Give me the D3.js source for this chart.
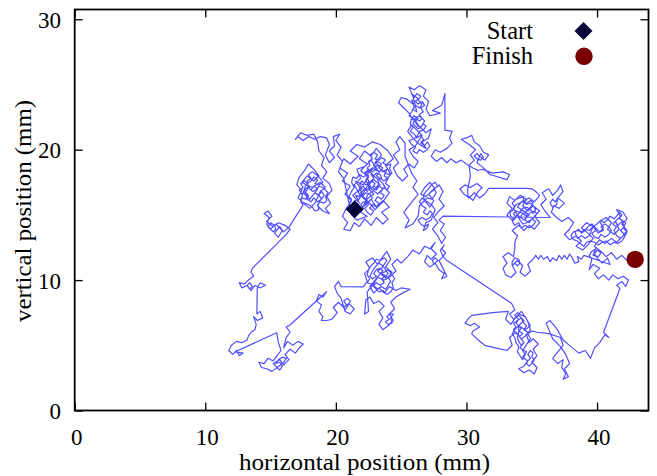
<!DOCTYPE html>
<html>
<head>
<meta charset="utf-8">
<script src="https://cdn.jsdelivr.net/npm/d3@7"></script>
<style>
  html, body { margin: 0; padding: 0; background: #fff; }
  svg { display: block; }
  text { font-family: "Liberation Serif", "Times New Roman", serif; fill: #000; }
</style>
</head>
<body>
<svg id="chart" width="657" height="476"></svg>
<script>
// ---- data (mm) ----
const xTicks = [0, 10, 20, 30, 40];
const yTicks = [0, 10, 20, 30];
const xDomain = [0, 43.94];
const yDomain = [0, 30.75];
const xTitle = "horizontal position (mm)";
const yTitle = "vertical position (mm)";
const legendLabels = ["Start", "Finish"];
const start = [21.44, 15.43];
const finish = [42.92, 11.59];

// traced path, in order (x, y)
const walkCentre = [[21.44,15.43],
  [21.6,15.7],[21.4,16.0],[21.7,16.2],[21.5,16.5],[21.8,16.4],[22.0,16.7],[21.8,17.0],[22.1,17.2],[22.3,16.9],[22.6,17.1],[22.4,17.4],[22.7,17.6],[23.0,17.4],[22.8,17.1],[23.1,16.9],[23.3,17.2],[23.6,17.0],[23.4,16.7],[23.7,16.5],[23.5,16.2],[23.2,16.4],[23.0,16.1],[23.3,15.9],[23.1,15.6],[22.8,15.8],[22.6,15.5],[22.9,15.3],[22.7,15.0],[22.4,15.2],[22.2,15.5],[22.5,15.8],[22.3,16.1],[22.6,16.4],[22.9,16.6],[22.6,16.9],[22.3,17.7],[22.5,18.0],[22.2,18.2],[22.5,18.5],[22.8,18.3],[23.1,18.5],[22.9,18.8],[23.2,19.1],[23.5,18.9],[23.3,18.6],[23.6,18.3],[23.9,18.5],[23.7,18.0],[24.0,17.8],[23.8,17.4],[24.1,17.2],[23.9,16.9],[23.6,17.4],[23.3,17.7],[23.0,17.9],[22.7,18.1],[22.9,17.8],[22.6,17.5],[22.3,17.3],[22.0,17.6],[21.8,17.4],[22.0,17.0],[21.7,16.8],[21.9,16.4],[21.7,16.1],
  [21.8,15.9],[21.3,16.5],[21.9,17.0],[21.5,17.6],[22.1,17.3],[22.5,17.9],[21.9,18.4],[22.4,18.9],[21.8,19.3],[22.2,19.9],[22.7,19.5],[23.1,20.1],[23.5,19.6],[23.0,19.0],[23.6,18.6],[23.1,18.0],[23.7,17.6],[24.2,18.1],[23.8,18.8],[24.4,19.3],[24.0,19.9],[23.4,20.4],[22.8,20.6],[22.2,20.2],[21.6,20.4],[21.1,19.9],[21.7,19.5],[21.1,18.9],[20.6,19.3],[20.3,18.6],[20.9,18.2],[20.5,17.6],[21.1,17.2],[20.7,16.6],[21.2,16.1],[20.8,15.5],[20.5,14.9],[20.9,14.4],[20.6,13.9],[21.1,13.8],[21.4,14.4],[21.8,14.1],[22.2,14.7],[22.7,14.2],[23.1,14.8],[23.6,14.3],[24.0,14.7],[23.5,15.2],[24.1,15.6],[23.6,16.1],[23.1,15.6],[22.7,16.2],[22.2,15.7],[22.4,16.5],[22.9,16.9],[23.4,17.3],[22.9,17.7],[22.4,17.2],[22.0,16.5],[22.5,16.0],[23.0,15.4],[23.6,16.0],[24.1,16.7],[23.7,17.1],[23.2,16.6],[22.7,17.0],[22.3,18.2],[22.8,18.6],[23.3,18.3],[22.7,19.2],[22.2,18.7],[21.6,18.5],[21.9,17.8],[21.4,17.3],[21.8,16.6],[22.3,16.1],[21.9,15.2],[22.4,14.9],[21.6,14.6],[21.2,15.0],
  [21.4,15.2],[21.6,15.4],[21.9,15.3],[22.1,15.5],[21.9,15.8],[22.1,16.0],[22.4,15.9],[22.6,16.1],[22.8,16.3],[22.6,16.6],[22.3,16.7],[22.1,16.5],[21.9,16.7],[22.2,17.0],[22.4,16.8],[22.6,17.0],[22.9,17.2],[23.1,17.1],[23.3,17.4],[23.2,17.7],[23.5,17.8],[23.4,18.1],[23.1,18.2],[22.9,18.0],[22.6,18.3],[22.4,18.6],[22.6,18.8],[22.5,19.1],[22.8,19.3],[22.6,19.6],[22.9,19.8],[23.2,19.6],[23.0,19.3],[23.3,19.2],[23.5,19.4],[23.8,19.2],[23.6,19.0],[23.9,18.8],[24.2,18.9],[24.1,18.5],[24.3,18.2],[24.0,18.1],[23.7,18.3],[23.4,18.5],[23.2,18.8],[22.9,18.6],[22.7,18.4],[22.4,18.1],[22.1,17.9],[21.8,18.1],[21.6,17.8],[21.3,17.9],[21.2,17.5],[21.4,17.1],[21.2,16.8],[21.0,16.4],[21.2,16.2],[21.0,15.8],[21.2,15.5],[21.2,15.0],
  [20.6,17.8],[20.2,18.3]];
const walkWest = [[20.5,19.1],[20.1,19.6],[20.4,20.2],[20.0,20.7],[20.3,21.2],[19.8,21.0],[19.9,20.3],[19.5,19.9],[19.9,19.4],[19.5,19.0],[19.2,19.6],[19.5,20.4],[19.3,20.9],[18.8,21.0],[18.4,20.8],[17.9,21.0],[17.5,20.7],[17.1,21.0],[16.9,20.8],[17.3,21.3],[17.8,21.1],[18.3,21.2],[18.6,20.6],[18.7,19.9],[19.1,19.4],[18.9,18.8],[19.3,18.3],[19.0,17.8],[19.5,17.4],[19.7,16.9],[19.3,16.4],[19.6,15.9],[19.2,15.5],[19.5,15.1],[19.0,15.3],[18.6,15.7],[18.9,16.3],[18.4,16.7],[18.0,16.2],[17.6,16.6],[17.9,17.1],
  [18.1,16.9],[18.3,17.2],[18.6,17.0],[18.4,16.7],[18.7,16.5],[18.9,16.8],[19.1,16.5],[18.9,16.2],[18.6,16.0],[18.3,16.3],[18.1,16.0],[17.8,16.2],[17.9,16.5],[17.6,16.8],[17.4,16.6],[17.2,16.9],[17.5,17.1],[17.3,17.4],[17.6,17.6],[17.8,17.4],[18.1,17.6],[18.3,17.9],[18.6,17.7],[18.4,17.4],[18.7,17.3],[19.0,17.5],[18.8,17.8],[18.5,18.1],[18.2,18.3],[17.9,18.1],[18.1,17.8],[17.8,17.6],[17.9,17.2],
  [17.7,17.0],[17.5,16.7],[17.8,16.5],[17.7,16.2],[17.4,16.3],[17.3,16.0],[17.6,15.9],[17.9,15.8],[18.2,15.6],[18.4,15.3],[18.7,15.4],[18.6,15.8],[18.8,16.0],[19.1,15.9],[19.3,16.1],[19.2,16.4],[19.4,16.7],[19.2,16.9],[19.0,17.1],[18.7,17.2],[18.5,16.9],[18.2,16.8],[18.0,17.0],[17.9,17.2],
  [17.4,17.5],[17.8,18.0],[18.3,17.6],[18.7,18.0],[18.3,18.5],[17.9,18.9],[17.6,18.4],[17.2,17.9],[17.0,17.3],[17.4,16.9],[17.1,16.3],[17.5,15.9],[18.0,15.5],[18.4,15.9],[18.8,16.8],[19.2,17.1],[18.8,17.5],[18.2,17.1],[17.7,17.3],[17.3,16.1],[17.48,15.75],
  [16.41,14.06],[16.0,13.7],[15.7,14.1],[15.3,13.6],[15.6,13.3],[15.9,13.8],[15.4,14.3],[15.0,13.9],[15.2,13.7],[15.4,13.9],[15.3,14.2],[15.0,14.4],[14.8,14.1],[15.0,13.9],[14.7,14.3],[14.9,14.8],[14.5,15.1],[14.8,15.3],[15.1,14.9],[14.7,14.5],[15.2,14.1],[15.6,14.4],[16.1,14.2],[16.5,13.9],[16.2,13.5],[15.8,13.1],[15.5,12.8],
  [13.6,10.9],[13.5,10.6],[13.7,10.3],[13.3,10.0],[13.0,9.7],[12.6,9.8],[12.8,9.4],[13.2,9.6],[13.4,9.8],[13.6,9.5],[13.4,9.3],[13.2,9.6],[13.5,9.2],[13.8,9.6],[14.2,9.4],[14.6,9.6],[14.2,9.8],[13.98,9.4],[13.95,7.4],[14.2,7.6],[14.4,7.1],[14.0,6.9],[13.7,7.2],[13.9,6.6],[13.8,6.2],[13.5,6.0],[13.3,5.7],[13.2,5.4],[12.8,5.2],[12.4,5.3],[12.0,5.0],[11.8,4.6],[12.1,4.3],[12.4,4.6],[12.6,4.2],[12.9,4.4],[12.29,4.5]];
const walkSouth = [[15.47,5.96],[15.6,5.2],[15.8,4.6],[15.5,4.2],[15.2,3.8],[14.8,4.0],[14.5,3.6],[14.1,3.7],[14.3,3.3],[14.7,3.2],[15.1,3.0],[15.5,3.3],[15.7,3.1],[15.9,3.4],[15.7,3.7],[15.4,3.6],[15.6,3.9],[15.9,4.1],[16.2,4.0],[16.0,3.7],[15.8,3.5],[15.5,3.3],[15.2,3.6],[15.7,3.9],[16.0,3.5],[16.4,3.9],[16.1,4.3],[16.5,4.7],[16.9,4.4],[17.2,4.8],[17.5,5.1],[17.1,5.3],[16.7,5.0],[16.3,5.3],[16.0,4.8],[16.2,5.6],[16.5,6.0],[16.2,6.4],[16.48,6.56],
  [19.29,9.11],[19.0,8.7],[18.7,8.9],[18.5,8.4],[18.9,8.1],[18.7,7.6],[19.0,7.2],[18.9,6.9],[19.3,6.9],[19.7,7.0],[20.1,7.5],[19.8,7.9],[20.2,8.3],[20.6,7.9],[20.8,8.1],[20.6,8.4],[20.9,8.6],[21.1,8.4],[20.9,8.0],[20.7,7.7],[20.5,8.1],[20.6,7.9],[21.0,8.2],[21.4,7.8],[21.1,7.4],[20.7,7.6],[20.4,8.6],[20.1,9.0],[19.9,9.5],[20.2,9.9],[20.4,9.5],
  [22.1,9.48],[22.4,9.9],[22.2,10.5],[22.6,10.9],[22.3,11.4],[22.8,11.7],[23.2,11.2],[23.6,11.8],[23.9,12.2],[24.2,11.6],[23.8,11.0],[24.3,10.6],[23.9,10.1],[23.4,10.5],
  [23.6,10.7],[23.4,10.9],[23.1,10.8],[22.9,10.5],[23.1,10.3],[22.8,10.1],[22.6,10.3],[22.8,10.7],[23.0,11.0],[23.3,11.3],[23.6,11.1],[23.8,10.8],[24.0,10.5],[23.8,10.3],[23.5,10.1],[23.7,9.8],[23.4,9.6],[23.1,9.8],[22.9,9.6],[23.2,9.3],[23.5,9.5],[23.8,9.3],[24.0,9.6],[24.2,9.9],[24.0,10.2],[23.7,10.4],[23.4,10.5],
  [23.2,10.7],[23.5,10.9],[23.7,11.2],[23.9,11.5],[23.7,11.7],[23.4,11.5],[23.1,11.6],[22.9,11.3],[22.7,11.1],[22.5,10.8],[22.4,10.4],[22.6,10.1],[22.4,9.8],[22.7,9.7],[23.0,9.4],[23.3,9.1],[23.6,9.2],[23.9,8.9],[24.2,9.1],[24.4,9.4],[24.3,9.8],[24.5,10.1],[24.3,10.4],[24.0,10.8],[23.7,10.6],[23.4,10.5],
  [23.0,10.0],[22.6,9.5],[22.9,9.0],[23.3,9.4],[23.7,9.0],[24.1,9.5],[24.6,9.2],[25.0,9.4],[25.7,9.3],[25.1,9.0],[24.6,8.7],[24.2,8.3],[24.5,7.8],[24.1,7.4],[23.9,7.2],[24.1,7.0],[23.8,6.8],[24.0,6.6],[24.3,6.7],[24.2,7.1],[24.4,7.4],[24.1,7.4],[24.4,6.9],[24.0,6.5],[23.6,6.2],[23.3,6.6],[23.6,7.1],[23.3,7.6],[23.7,8.0],[23.3,8.4],[22.9,8.2],[22.6,8.7],[22.3,8.5],[22.2,7.4],[22.5,7.6],[22.4,9.1],[22.8,9.6],[23.2,10.2],[23.7,10.0],[24.2,10.3],[24.6,10.7],[24.3,11.2],[24.7,11.6],[25.0,11.3],[25.5,11.8],[25.9,12.3],[26.4,12.0],[26.8,12.6],[27.2,12.4],[27.6,12.9],
  [27.3,12.4],[27.7,12.0],[27.3,11.6],[27.0,11.9],[26.8,11.4],[27.2,11.0],[27.6,11.3],[27.8,11.5],[27.6,11.7],[27.4,11.5],[27.5,11.2],[27.6,11.3],[27.9,10.8],[28.3,10.5],[28.1,10.1],[28.5,10.3],[28.2,10.9],[27.9,11.5],[28.2,11.8],[28.4,12.1],[28.1,12.4],[28.3,12.7],[28.0,12.3],[28.2,11.8],[28.48,11.53]];
const walkSouthEast = [[33.46,8.21],[33.7,7.7],[33.3,7.4],[33.6,7.0],[34.0,7.3],[34.4,6.9],[34.0,6.5],
  [34.2,6.3],[34.0,6.1],[34.3,5.9],[34.1,5.7],[33.8,5.9],[33.6,6.2],[33.8,6.4],[33.6,6.7],[33.9,6.9],[34.2,7.1],[34.4,6.7],[34.6,6.5],[34.4,6.2],[34.7,6.0],[34.5,5.7],[34.2,5.5],[34.4,5.2],[34.2,5.0],[34.0,5.3],[33.9,5.6],[34.0,6.0],[34.0,6.5],
  [33.8,6.7],[34.0,7.0],[33.7,7.3],[33.9,7.5],[34.2,7.3],[34.5,7.2],[34.7,6.8],[34.9,6.2],[34.7,5.9],[34.9,5.5],[34.7,5.2],[34.5,4.9],[34.3,4.6],[34.5,4.3],[34.3,3.9],[34.1,4.2],[33.9,4.5],[34.0,4.9],[33.8,5.2],[33.7,5.6],[33.5,5.9],[33.7,6.2],[34.0,6.5],
  [34.5,6.2],[34.9,6.5],[34.6,7.0],[34.2,7.6],[33.8,7.2],[33.4,6.6],[33.0,7.0],[33.2,7.6],[32.0,7.5],[30.4,7.3],[30.1,7.0],[29.9,6.7],[30.3,6.5],[30.6,6.7],[31.0,6.4],[30.5,6.1],[30.4,5.9],[30.9,5.4],[31.4,5.0],[32.2,4.8],[33.1,4.6],[33.5,5.0],[33.3,5.6],[33.8,6.0],[34.1,5.6],[34.4,5.2],[34.1,4.8],[34.6,4.5],[34.3,4.1],[34.7,3.8],
  [34.9,4.0],[34.7,4.3],[34.9,4.6],[35.1,4.4],[35.0,4.1],[35.2,3.9],[35.0,3.6],[34.8,3.4],[34.6,3.6],[34.7,3.8],
  [34.4,3.4],[34.0,3.2],[34.4,2.9],[34.8,3.1],[35.2,2.8],[35.4,3.3],[35.0,3.7],[35.4,4.2],[35.1,4.7],[35.5,5.1],[35.1,5.5],[34.8,5.2],[34.6,5.8],[35.0,6.1],[35.4,6.0],[36.3,5.9],[37.2,5.6],[37.4,5.0],[37.0,4.5],[36.6,4.0],[37.0,3.6],[37.4,3.9],[37.3,3.3],[37.6,2.8],[37.4,2.4],[37.8,2.6],[37.5,3.2],[37.9,3.6],[37.6,4.3],[37.2,4.9],[36.6,5.5],[36.1,6.7],[36.4,6.9],[36.9,6.3],[37.4,5.4],[38.0,4.9],[38.6,4.4],[39.1,4.6],[39.5,4.0],[39.8,4.8],[40.2,5.2],[40.6,5.8],[40.9,5.6],[40.5,6.0],[41.75,9.36],
  [41.5,9.6],[41.9,9.9],[42.2,9.5],[42.4,10.0],[42.0,10.3],[41.6,10.1],[41.2,10.4],[40.9,10.0],[40.5,10.4],[40.1,10.1],[39.8,10.5],[40.2,10.9],[39.7,11.2],[39.4,10.8],[39.6,11.6],[39.4,11.9],[39.6,12.2],[39.9,12.4],[39.7,11.9],[40.1,11.8],[40.3,12.1],[40.0,12.3],[39.8,12.0],[40.0,11.7],[40.4,11.3],[40.8,11.7],[41.0,11.2],
  [39.0,11.9],[38.8,11.6],[38.5,11.8],[38.6,11.4],[38.3,11.3],[38.1,11.7],[37.9,12.0],[37.7,11.6],[37.5,11.9],[37.3,11.6],[37.1,11.9],[36.9,11.5],[36.6,11.7],[36.4,11.4],[36.2,11.8],[35.9,11.6],[35.7,11.9],[35.5,11.6],[35.3,11.9],[35.1,11.6],
  [34.7,11.2],[34.9,10.7],[34.5,10.3],[34.1,10.6],[34.3,11.1],[33.9,11.5],[33.5,11.1],[33.7,11.3],[33.9,11.1],[34.1,11.3],[34.0,11.6],[33.7,11.7],[33.5,11.4],[33.5,11.1],[33.8,10.6],[33.4,10.2],[33.0,10.4],[32.8,10.9],[33.1,11.3],[32.8,11.8],[33.2,12.1],[33.6,11.8],[33.7,12.4],[33.7,12.9]];
const walkEast = [[33.9,13.4],[33.5,13.8],[34.0,14.2],[34.4,13.8],[34.8,14.2],[35.2,13.9],[35.6,14.4],[35.2,14.9],[35.6,15.3],[35.1,15.7],[34.7,15.3],[34.3,15.7],[34.6,16.2],[34.1,16.5],[33.7,16.1],[33.3,16.4],[33.1,15.9],[33.5,15.5],[33.1,15.0],[33.5,14.6],[33.9,15.0],
  [34.1,14.8],[34.3,15.1],[34.6,14.9],[34.5,14.6],[34.8,14.4],[35.0,14.7],[35.3,14.5],[35.1,14.2],[34.8,14.0],[34.5,14.2],[34.2,14.0],[34.0,14.4],[33.7,14.2],[33.5,14.5],[33.8,14.8],[33.6,15.1],[33.8,15.3],[34.1,15.2],[34.3,15.5],[34.6,15.6],[34.9,15.4],[35.1,15.1],[35.3,15.4],[35.1,15.7],[34.9,15.9],[34.6,15.8],[34.4,16.1],[34.1,15.9],[33.8,15.8],[33.6,15.5],[33.9,15.0],
  [34.1,14.6],[34.3,14.3],[34.6,14.4],[34.9,14.6],[35.2,14.8],[35.4,15.1],[35.2,15.3],[34.9,15.2],[34.7,14.9],[34.5,15.2],[34.2,15.4],[34.0,15.1],[33.8,14.9],[33.6,14.7],[33.4,14.9],[33.3,15.2],[33.5,15.3],[33.7,15.6],[33.5,15.9],[33.8,16.2],[34.1,16.3],[34.4,16.4],[34.3,16.0],[34.6,15.9],[34.9,16.1],[35.1,15.9],[34.9,15.6],[34.7,15.4],[34.4,15.1],[34.1,15.2],[33.9,15.0],
  [34.4,14.6],[34.8,15.0],[34.4,15.3],[33.9,15.6],[34.2,16.0],[34.8,16.3],[35.2,16.0],[35.6,16.5],[35.3,16.8],[35.0,17.0],[34.6,17.04],
  [31.7,17.04],[31.4,16.6],[31.0,16.3],[30.6,16.7],[30.2,16.3],[29.8,16.6],[29.5,17.0],[29.9,17.3],[30.3,17.1],[30.8,17.4],[31.2,17.1],[30.9,16.8],[30.5,16.1],[30.1,16.5],[30.1,17.0],
  [30.3,18.0],[30.2,18.8],[30.6,19.2],[30.3,19.6],[30.7,20.0],[30.2,20.4],[29.6,20.8],[30.0,20.9],[30.4,21.1],[30.6,20.6],[31.0,20.3],[31.3,19.8],[31.7,19.6],[31.4,19.2],[31.0,19.5],[30.8,19.7],[30.6,19.5],[30.8,19.3],[31.1,19.2],[31.3,19.4],[31.1,19.7],[31.0,19.5],[30.8,19.0],[31.2,18.7],[31.8,18.1],[33.1,17.7],[33.3,18.1],[32.8,18.3],[32.0,18.2],[31.2,18.5],[30.9,18.4],[30.5,18.6],[30.0,18.9],[29.6,19.2],[29.2,19.0],[28.8,19.3],[28.5,19.0],[28.1,19.4],[27.7,19.1],[27.3,19.5],[27.6,20.0],[28.0,19.8],[28.5,20.1],[28.9,20.5],[28.7,20.9],[28.9,21.4],[28.35,21.5],[28.35,24.3]];
const walkNorth = [[28.1,23.4],[27.4,23.0],[28.0,22.8],[27.2,22.6],[26.9,23.1],[27.1,23.7],[26.7,24.1],[26.9,24.6],[26.4,24.9],[26.0,24.6],[25.6,24.8],[25.8,24.3],
  [26.0,24.0],[26.2,24.3],[26.5,24.1],[26.3,23.8],[26.6,23.5],[26.4,23.2],[26.1,23.4],[25.9,23.1],[26.2,22.9],[25.9,24.1],[25.8,24.3],
  [26.3,23.9],[25.9,23.5],[25.4,23.9],[25.0,24.0],[24.8,23.6],[25.2,23.2],[25.6,22.8],[25.9,22.3],[26.4,22.6],[26.8,22.2],[26.5,21.7],
  [26.3,21.9],[26.1,22.2],[26.3,22.4],[26.0,22.6],[25.8,22.4],[25.7,22.0],[25.9,21.7],[25.7,21.4],[26.0,21.2],[26.2,20.9],[26.5,21.1],[26.7,20.8],[26.5,20.5],[26.8,20.3],[27.0,20.6],[27.2,20.3],[27.0,20.0],[26.7,19.8],[26.4,20.0],[26.2,19.7],[25.9,19.9],[26.1,20.2],[25.8,20.4],[25.6,20.7],[25.9,20.8],[26.2,21.0],[26.4,21.4],[26.7,21.5],[26.9,21.8],[26.7,22.0],[26.5,21.7],
  [26.3,21.6],[26.1,21.8],[25.9,22.0],[26.1,22.4],[26.4,22.2],[26.6,22.4],[26.4,22.7],[26.7,22.9],[26.5,23.2],[26.8,23.4],[26.6,23.7],[26.3,23.5],[26.1,23.7],[25.8,23.8],[26.0,23.3],[25.8,22.9],[25.6,22.6],[25.9,22.4],[26.1,22.1],[26.3,21.8],[26.5,21.7],
  [26.9,21.3],[27.3,21.6],[27.1,20.9],[26.6,20.6],[26.9,20.1],[26.4,20.4],[25.9,20.9],[25.5,21.4],[25.8,21.9],[26.2,21.5],[26.6,21.1],[26.1,20.3],[25.6,20.0],[25.9,19.5],[26.3,19.1],[26.0,18.6],[25.6,18.9],[25.2,18.5],[25.5,18.0],[25.1,17.6],[24.7,18.0],[24.4,18.6],[24.8,19.0],[24.4,19.6],[24.9,20.0],[24.6,20.6],[24.9,21.0],[25.3,20.5],[25.3,19.5],
  [25.8,18.2],[26.2,17.6],[25.9,17.1],[26.3,16.6],[25.9,16.1],[25.2,15.2],[25.6,14.6],[25.3,14.0],[25.9,14.3],[26.3,14.9],[26.4,15.7],[26.8,16.1],
  [26.6,16.3],[26.4,16.0],[26.6,15.7],[26.9,15.5],[26.7,15.2],[27.0,15.0],[27.2,15.3],[27.4,15.1],[27.2,14.8],[26.9,14.6],[26.6,14.8],[26.3,14.6],[26.5,14.3],[26.8,14.1],[27.1,14.3],[27.0,14.0],[26.7,13.8],[26.9,14.4],[27.3,14.6],[27.6,15.4],[27.3,15.8],[27.0,16.0],[26.8,16.1],
  [27.0,16.3],[27.3,16.2],[27.5,16.4],[27.7,16.7],[27.5,17.0],[27.8,17.2],[27.6,17.5],[27.3,17.3],[27.1,17.0],[26.9,16.8],[26.7,16.5],[26.8,16.1],
  [27.2,15.6],[27.5,16.1],[27.1,16.6],[27.6,17.0],[27.2,17.5],[26.8,17.1],[26.5,16.6],[26.9,16.4],[27.4,16.9],[27.9,17.3],[28.2,16.8],[27.9,16.2],[28.3,15.7],[27.9,15.3],[27.5,14.8],[27.8,14.4],[27.4,13.9],[27.8,13.4],[28.1,12.8],[28.4,13.3],[28.0,13.8],[28.3,14.3],[27.9,14.6],[28.2,14.9]];
const walkFinal = [[36.4,14.8],[36.0,15.3],[35.7,15.8],[36.1,16.2],[35.8,16.7],[36.3,17.0],[36.6,16.5],[37.0,16.9],[37.2,17.3],[37.4,16.8],[37.0,16.3],[36.8,16.0],[36.6,16.2],[36.4,15.9],[36.6,15.6],[36.9,15.8],[37.0,16.3],[37.5,15.9],[37.1,15.5],[36.7,15.7],[36.5,15.2],[36.9,14.8],[37.3,14.5],[37.8,14.8],[38.2,14.4],[37.9,13.9],[37.5,13.5],[37.9,13.1],[38.4,13.4],[38.8,13.0],[38.4,12.6],[38.9,12.3],[39.3,12.7],[39.7,13.2],[39.3,13.6],[38.8,14.0],[39.2,14.4],[39.7,14.1],
  [39.9,13.8],[39.6,13.6],[39.8,13.3],[40.1,13.2],[40.3,13.5],[40.6,13.3],[40.9,13.5],[41.1,13.8],[40.9,14.1],[40.6,14.3],[40.3,14.1],[40.5,13.8],[40.2,13.7],[39.9,14.0],[39.6,14.3],[39.3,14.1],[39.1,13.8],[38.8,13.6],[38.6,13.9],[38.3,13.7],[38.5,13.2],[38.8,13.4],[39.1,13.2],[39.4,13.4],[39.7,14.1],
  [40.0,14.3],[40.3,14.6],[40.5,14.4],[40.8,14.6],[41.0,14.9],[41.3,14.7],[41.5,14.9],[41.7,15.2],[41.9,15.0],[41.7,14.7],[41.9,14.6],[42.2,14.4],[42.0,14.0],[42.3,13.7],[42.1,13.3],[41.9,13.0],[41.6,12.8],[41.3,12.9],[41.0,12.7],[40.7,13.0],[40.4,12.9],[40.1,12.7],[39.8,12.9],[39.5,13.0],[39.2,12.9],[39.0,12.6],[38.7,12.8],[38.5,13.0],[38.2,13.1],[38.0,13.4],[38.2,13.7],[38.5,13.8],[38.8,13.7],[39.1,13.9],[39.4,13.8],[39.7,14.1],
  [40.1,13.6],[40.5,14.0],[40.2,14.5],[40.7,14.8],[41.1,14.4],[40.8,13.9],[41.3,13.5],[41.7,13.9],[41.4,14.5],
  [41.6,14.2],[41.9,14.5],[42.1,14.1],[41.8,13.8],[42.1,13.5],[41.8,13.2],[41.5,13.4],[41.3,13.8],[41.5,14.1],[41.2,14.3],[41.4,14.5],
  [41.8,14.9],[41.5,15.4],[42.0,15.2],[42.3,14.7],[41.9,14.3],[42.3,13.8],[41.9,13.3],[41.5,12.9],[41.1,13.2],[40.6,12.8],[40.2,13.1],[39.8,12.6],[40.3,12.2],[40.7,11.8],[41.1,12.1],[41.5,11.6],[41.9,11.9],[42.3,11.5],[42.6,11.8],[42.92,11.59]];

const walk = [].concat(walkCentre, walkWest, walkSouth, walkSouthEast, walkEast, walkNorth, walkFinal);

// ---- drawing ----
const svg = d3.select("#chart");
const W = 657, H = 476;
const L = 74.7, R = 648.5, T = 9.5, B = 410.5;

svg.append("rect").attr("width", W).attr("height", H).attr("fill", "#fff");

const x = d3.scaleLinear().domain(xDomain).range([L, R]);
const y = d3.scaleLinear().domain(yDomain).range([B, T]);

// walk line
svg.append("path")
  .datum(walk)
  .attr("fill", "none")
  .attr("stroke", "#4f4fff")
  .attr("stroke-width", 1.2)
  .attr("stroke-linejoin", "round")
  .attr("d", d3.line().x(d => x(d[0])).y(d => y(d[1])));

// axes (ticks inward, mirrored)
const tickLen = 8;
const axB = svg.append("g").attr("transform", `translate(0,${B})`)
  .call(d3.axisBottom(x).tickValues(xTicks).tickSize(-tickLen).tickPadding(0).tickFormat(""));
const axT = svg.append("g").attr("transform", `translate(0,${T})`)
  .call(d3.axisTop(x).tickValues(xTicks).tickSize(-tickLen).tickFormat(""));
const axLf = svg.append("g").attr("transform", `translate(${L},0)`)
  .call(d3.axisLeft(y).tickValues(yTicks).tickSize(-tickLen).tickFormat(""));
const axRt = svg.append("g").attr("transform", `translate(${R},0)`)
  .call(d3.axisRight(y).tickValues(yTicks).tickSize(-tickLen).tickFormat(""));
[axB, axT, axLf, axRt].forEach(g => {
  g.select(".domain").remove();
  g.selectAll(".tick line").attr("stroke", "#000").attr("stroke-width", 1.3);
});

// frame
svg.append("rect")
  .attr("x", L).attr("y", T).attr("width", R - L).attr("height", B - T)
  .attr("fill", "none").attr("stroke", "#000").attr("stroke-width", 1.8);

// tick labels
svg.append("g").selectAll("text").data(xTicks).join("text")
  .attr("x", d => x(d) + 2).attr("y", 445)
  .attr("text-anchor", "middle").attr("font-size", 23)
  .text(d => d);
svg.append("g").selectAll("text").data(yTicks).join("text")
  .attr("x", 61).attr("y", d => y(d) + 8.5)
  .attr("text-anchor", "end").attr("font-size", 23)
  .text(d => d);

// axis titles
svg.append("text")
  .attr("x", 364.5).attr("y", 470)
  .attr("text-anchor", "middle").attr("font-size", 23.5)
  .attr("textLength", 251).attr("lengthAdjust", "spacingAndGlyphs")
  .text(xTitle);
svg.append("text")
  .attr("transform", "translate(31,211) rotate(-90)")
  .attr("text-anchor", "middle").attr("font-size", 23.5)
  .attr("textLength", 222).attr("lengthAdjust", "spacingAndGlyphs")
  .text(yTitle);

// markers
const diamond = d3.symbol(d3.symbolSquare, 162)();
const circle = d3.symbol(d3.symbolCircle, Math.PI * 8.7 * 8.7)();
svg.append("path").attr("d", diamond)
  .attr("transform", `translate(${x(start[0])},${y(start[1])}) rotate(45)`)
  .attr("fill", "#06063a");
svg.append("path").attr("d", circle)
  .attr("transform", `translate(${x(finish[0])},${y(finish[1])})`)
  .attr("fill", "#7a0000");

// legend
const legend = svg.append("g");
legend.selectAll("text").data(legendLabels).join("text")
  .attr("x", 533).attr("y", (d, i) => 39 + i * 25)
  .attr("text-anchor", "end").attr("font-size", 24.5)
  .text(d => d);
legend.append("path").attr("d", diamond)
  .attr("transform", "translate(583.5,31) rotate(45)")
  .attr("fill", "#06063a");
legend.append("path").attr("d", circle)
  .attr("transform", "translate(584,56.3)")
  .attr("fill", "#7a0000");
</script>
</body>
</html>
